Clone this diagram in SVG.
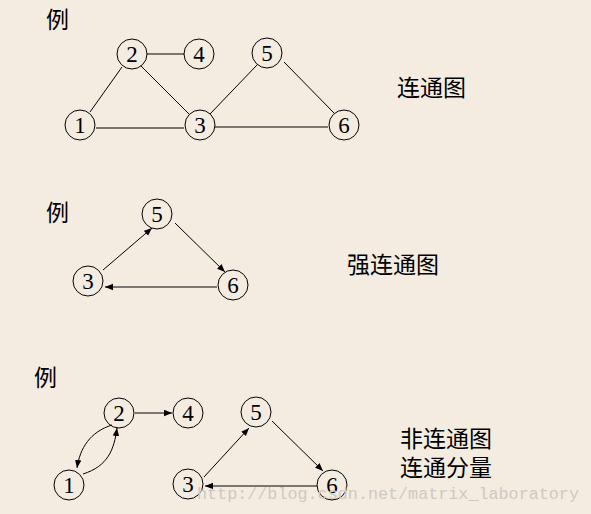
<svg xmlns="http://www.w3.org/2000/svg" width="591" height="514" viewBox="0 0 591 514">
<style>
.n{fill:none;stroke:#000;stroke-width:1}
.d{font-family:"Liberation Serif","Times New Roman",serif;font-size:23px;fill:#000;text-anchor:middle}
.c{font-family:"Noto Sans CJK SC","Liberation Sans",sans-serif;font-size:23px;fill:#000}
.e{fill:none;stroke:#000;stroke-width:1}
.a{marker-end:url(#ah)}
.w{font-family:"Liberation Mono","DejaVu Sans Mono",monospace;font-size:16.75px;fill:#cdc9c2}
</style>
<defs>
<marker id="ah" viewBox="0 0 10 10" refX="10" refY="5" markerWidth="8" markerHeight="8" markerUnits="userSpaceOnUse" orient="auto">
<path d="M0,1 L10,5 L0,9 z" fill="#000"/>
</marker>
</defs>
<rect width="591" height="514" fill="#F4ECE1"/>
<g id="labels">
<text class="c" x="46" y="28">例</text>
<text class="c" x="397" y="96">连通图</text>
<text class="c" x="46" y="221">例</text>
<text class="c" x="347" y="273">强连通图</text>
<text class="c" x="34" y="386">例</text>
<text class="c" x="400" y="447">非连通图</text>
<text class="c" x="400" y="476">连通分量</text>
</g>
<g id="connectors">
<line class="e" x1="90" y1="112" x2="122" y2="67"/>
<line class="e" x1="147" y1="54" x2="184" y2="54"/>
<line class="e" x1="141" y1="66" x2="189" y2="114"/>
<line class="e" x1="210" y1="114" x2="257" y2="65"/>
<line class="e" x1="284" y1="62" x2="334" y2="113"/>
<line class="e" x1="96" y1="128" x2="184" y2="128"/>
<line class="e" x1="215" y1="127" x2="328" y2="127"/>
<line class="e a" x1="103" y1="270" x2="152" y2="228"/>
<line class="e a" x1="175" y1="223" x2="225" y2="272"/>
<line class="e a" x1="217" y1="287" x2="105" y2="287"/>
<line class="e a" x1="135" y1="413" x2="172" y2="413"/>
<path class="e a" d="M112,425 C90,432 80,448 77,468"/>
<path class="e a" d="M83,474 C108,466 114,450 117,428"/>
<line class="e a" x1="204" y1="477" x2="249" y2="428"/>
<line class="e a" x1="272" y1="421" x2="323" y2="471"/>
<line class="e a" x1="317" y1="486" x2="205" y2="486"/>
</g>
<g id="g1n1"><circle class="n" cx="80" cy="125" r="15"/><text class="d" x="80" y="133">1</text></g>
<g id="g1n2"><circle class="n" cx="132" cy="54" r="15"/><text class="d" x="132" y="62">2</text></g>
<g id="g1n3"><circle class="n" cx="200" cy="125" r="15"/><text class="d" x="200" y="133">3</text></g>
<g id="g1n4"><circle class="n" cx="199" cy="54" r="15"/><text class="d" x="199" y="62">4</text></g>
<g id="g1n5"><circle class="n" cx="267" cy="53" r="15"/><text class="d" x="267" y="61">5</text></g>
<g id="g1n6"><circle class="n" cx="344" cy="125" r="15"/><text class="d" x="344" y="133">6</text></g>
<g id="g2n5"><circle class="n" cx="157" cy="214" r="15"/><text class="d" x="157" y="222">5</text></g>
<g id="g2n3"><circle class="n" cx="88" cy="281" r="15"/><text class="d" x="88" y="289">3</text></g>
<g id="g2n6"><circle class="n" cx="233" cy="285" r="15"/><text class="d" x="233" y="293">6</text></g>
<g id="g3n1"><circle class="n" cx="69" cy="485" r="15"/><text class="d" x="69" y="493">1</text></g>
<g id="g3n2"><circle class="n" cx="119" cy="413" r="15"/><text class="d" x="119" y="421">2</text></g>
<g id="g3n4"><circle class="n" cx="188" cy="413" r="15"/><text class="d" x="188" y="421">4</text></g>
<g id="g3n5"><circle class="n" cx="256" cy="412" r="15"/><text class="d" x="256" y="420">5</text></g>
<g id="g3n3"><circle class="n" cx="188" cy="484" r="15"/><text class="d" x="188" y="492">3</text></g>
<g id="g3n6"><circle class="n" cx="332" cy="485" r="15"/><text class="d" x="332" y="493">6</text></g>
<text class="w" x="197" y="499">http://blog.csdn.net/matrix_laboratory</text>
</svg>
